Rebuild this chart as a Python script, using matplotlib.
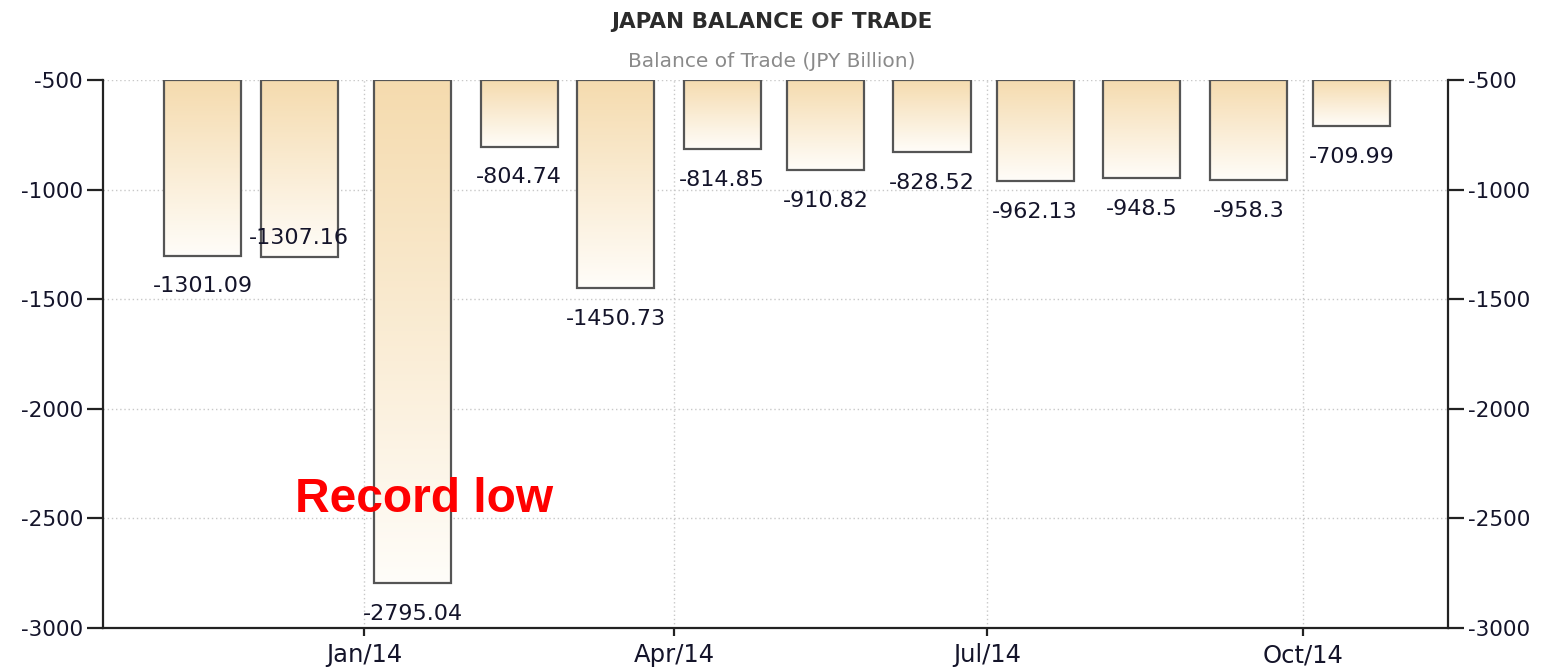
import datetime as dt
import numpy as np
import matplotlib
matplotlib.use("Agg")
import matplotlib.pyplot as plt
import matplotlib.dates as mdates
from matplotlib.colors import LinearSegmentedColormap

# monthly balance of trade, Nov 2013 .. Oct 2014 (JPY billion)
months = [dt.date(2013, 11, 15), dt.date(2013, 12, 13)] + \
         [dt.date(2014, m, 15) for m in range(1, 11)]
values = [-1301.09, -1307.16, -2795.04, -804.74, -1450.73, -814.85,
          -910.82, -828.52, -962.13, -948.5, -958.3, -709.99]
labels = ["-1301.09", "-1307.16", "-2795.04", "-804.74", "-1450.73", "-814.85",
          "-910.82", "-828.52", "-962.13", "-948.5", "-958.3", "-709.99"]
yticks = [-500, -1000, -1500, -2000, -2500, -3000]
xticks = [dt.date(2014, 1, 1), dt.date(2014, 4, 1), dt.date(2014, 7, 1), dt.date(2014, 10, 1)]
xticklabels = ["Jan/14", "Apr/14", "Jul/14", "Oct/14"]

BASE = -500
# label offsets in points relative to bar end (layout only)
label_dy = [-22, 14, -22, -22, -22, -22, -22, -22, -22, -22, -22, -22]

fig = plt.figure(figsize=(15.43, 6.67), dpi=100)
ax = fig.add_axes([0.0668, 0.0585, 0.9384 - 0.0668, 0.880 - 0.0585])

x = mdates.date2num(months)
width = 22.4
bars = ax.bar(x, np.array(values) - BASE, bottom=BASE, width=width,
              facecolor="none", edgecolor="#555555", linewidth=1.6, zorder=3)

grad = LinearSegmentedColormap.from_list("wheat", ["#fffdf9", "#f5dbae"])
g = np.linspace(0, 1, 256).reshape(-1, 1)
for b, v in zip(bars, values):
    x0 = b.get_x()
    im = ax.imshow(g, cmap=grad, aspect="auto", origin="lower",
                   extent=[x0, x0 + b.get_width(), v, BASE], zorder=2)
    im.set_clip_path(b)

for xi, v, lab, dy in zip(x, values, labels, label_dy):
    ax.annotate(lab, (xi, v), xytext=(0, dy), textcoords="offset points",
                ha="center", va="center", fontsize=16, color="#14142a", zorder=4)

ax.set_xlim(mdates.date2num(dt.date(2013, 10, 17)), mdates.date2num(dt.date(2014, 11, 12)))
ax.set_ylim(-3000, -500)
ax.set_yticks(yticks)
ax.set_yticklabels([str(t) for t in yticks])
ax.set_xticks(mdates.date2num(xticks))
ax.set_xticklabels(xticklabels)

ax.grid(True, linestyle=(0, (1, 2)), color="#c8c8c8", linewidth=1.0, zorder=0)
ax.set_axisbelow(True)

for s in ["left", "right", "bottom"]:
    ax.spines[s].set_linewidth(1.6)
    ax.spines[s].set_color("#222222")
ax.spines["top"].set_visible(False)

ax.tick_params(axis="y", which="both", left=True, right=True, labelleft=True, labelright=True,
               direction="out", length=11.5, width=1.6, color="#222222",
               labelsize=15.5, labelcolor="#14142a", pad=3)
ax.tick_params(axis="x", direction="out", length=6, width=1.6, color="#222222",
               labelsize=17.5, labelcolor="#14142a", pad=5)

fig.text(0.5, 0.967, "JAPAN BALANCE OF TRADE", ha="center", va="center",
         fontsize=15.5, fontweight="bold", color="#2b2b2b")
fig.text(0.5, 0.908, "Balance of Trade (JPY Billion)", ha="center", va="center",
         fontsize=14.5, color="#8a8a8a")

ax.text(0.1428, 0.2336, "Record low", transform=ax.transAxes, ha="left", va="center",
        fontsize=34.5, fontweight="bold", color="#ff0000",
        family=["Liberation Sans", "DejaVu Sans"], zorder=5)

fig.savefig("out.png", dpi=100)
